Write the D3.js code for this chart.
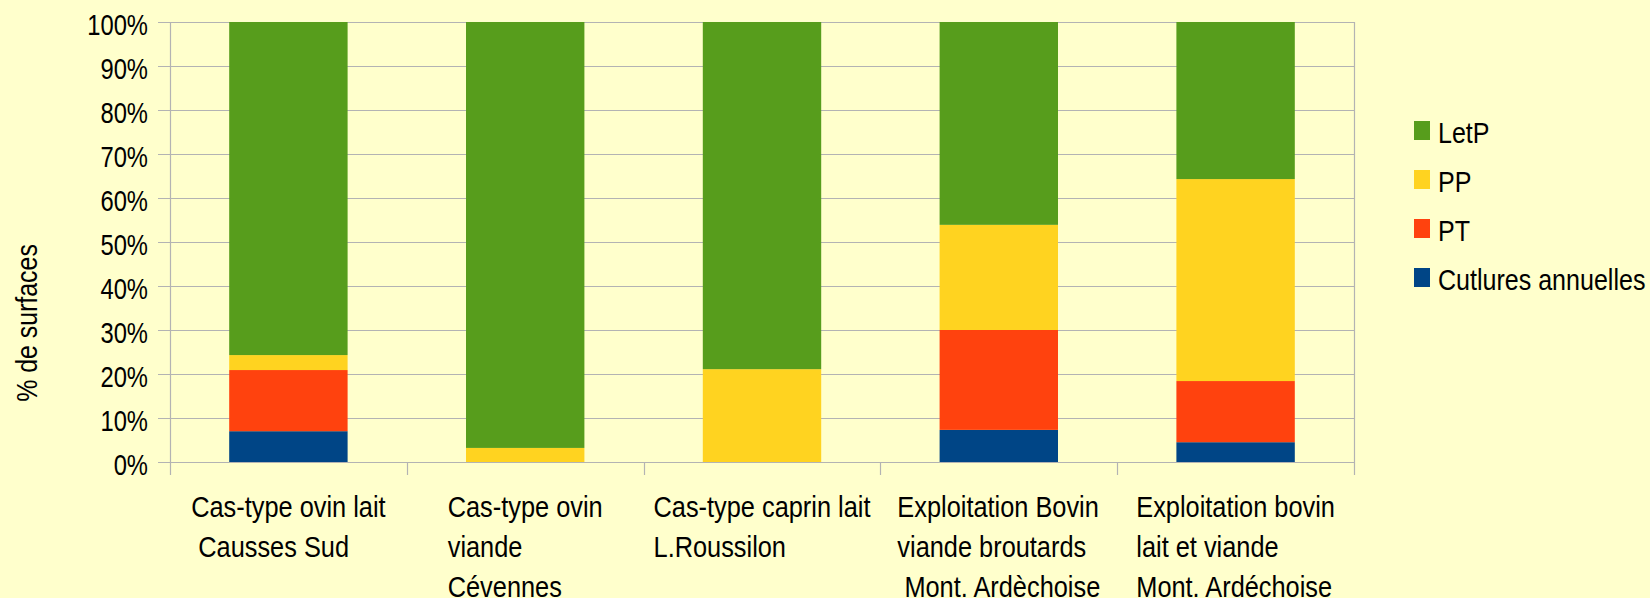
<!DOCTYPE html>
<html><head><meta charset="utf-8">
<script src="https://cdn.jsdelivr.net/npm/d3@7"></script>
<style>
html,body{margin:0;padding:0;background:#ffffcc;}
svg{display:block;}
text{white-space:pre;}
</style></head>
<body>
<svg id="chart" width="1650" height="598"></svg>
<script>
// ---- data ----
const categories = ["c1","c2","c3","c4","c5"];
const categoryLines = [
  ["Cas-type ovin lait", " Causses Sud"],
  ["Cas-type ovin", "viande", "Cévennes"],
  ["Cas-type caprin lait", "L.Roussilon"],
  ["Exploitation Bovin", "viande broutards", " Mont. Ardèchoise"],
  ["Exploitation bovin", "lait et viande", "Mont. Ardéchoise"]
];
const seriesNames = ["Cutlures annuelles", "PT", "PP", "LetP"];
const culturesAnnuelles = [7.0, 0, 0, 7.3, 4.5];
const pt = [13.9, 0, 0, 22.7, 13.9];
const pp = [3.4, 3.2, 21.1, 23.9, 45.9];
const letp = [75.7, 96.8, 78.9, 46.1, 35.7];
const yTicks = [0,10,20,30,40,50,60,70,80,90,100];
const yTickLabels = ["0%","10%","20%","30%","40%","50%","60%","70%","80%","90%","100%"];
const yTitle = "% de surfaces";
const colors = ["#004586", "#ff420e", "#ffd320", "#579d1c"];

(function(){
const svg = d3.select("#chart");
svg.append("rect").attr("width",1650).attr("height",598).attr("fill","#ffffcc");

const FONT = "'Liberation Sans', Arial, sans-serif";

function addText(g, x, y, str, size, anchor, extra, sx) {
  return g.append("text")
    .attr("transform", `translate(${x},${y})${extra||""} scale(${sx||0.84},1)`)
    .attr("text-anchor", anchor || "start")
    .style("font-family", FONT)
    .style("font-size", size + "px")
    .attr("fill", "#000")
    .text(str);
}

const pLeft = 170, pRight = 1354, pTop = 22, pBottom = 462;
const x = d3.scaleBand().domain(categories).range([pLeft, pRight]).paddingInner(0.5).paddingOuter(0.25);
const y = d3.scaleLinear().domain([0,100]).range([pBottom, pTop]);

// gridlines
const grid = svg.append("g");
yTicks.forEach(v => {
  grid.append("line").attr("x1", 158).attr("x2", pRight)
    .attr("y1", Math.round(y(v))+0.5).attr("y2", Math.round(y(v))+0.5)
    .attr("stroke", "#b3b3b3").attr("stroke-width", 1.2);
});
grid.append("line").attr("x1", pLeft+0.5).attr("x2", pLeft+0.5).attr("y1", pTop).attr("y2", 475).attr("stroke","#b3b3b3").attr("stroke-width",1.2);
grid.append("line").attr("x1", pRight+0.5).attr("x2", pRight+0.5).attr("y1", pTop).attr("y2", 475).attr("stroke","#b3b3b3").attr("stroke-width",1.2);
const step = x.step();
for (let i = 1; i < categories.length; i++) {
  const bx = Math.round(pLeft + i*step) + 0.5;
  grid.append("line").attr("x1", bx).attr("x2", bx).attr("y1", pBottom).attr("y2", 475).attr("stroke","#b3b3b3").attr("stroke-width",1.2);
}

// stacked bars
const rows = categories.map((c,i) => ({cat:c, "Cutlures annuelles":culturesAnnuelles[i], "PT":pt[i], "PP":pp[i], "LetP":letp[i]}));
const stacked = d3.stack().keys(seriesNames)(rows);
svg.append("g").selectAll("g").data(stacked).join("g")
  .attr("fill", (d,i) => colors[i])
  .selectAll("rect").data(d => d).join("rect")
  .attr("x", d => x(d.data.cat))
  .attr("width", x.bandwidth())
  .attr("y", d => y(d[1]))
  .attr("height", d => Math.max(0, y(d[0]) - y(d[1])));

// y tick labels
const yl = svg.append("g");
yTicks.forEach((v,i) => addText(yl, 148, y(v) + 12.5, yTickLabels[i], 29, "end", "", 0.82));

// category labels (lines left-aligned, block centered)
const cl = svg.append("g");
const csx = 0.845;
categories.forEach((c,i) => {
  const lines = categoryLines[i];
  const cx = x(c) + x.bandwidth()/2;
  const tmp = lines.map(s => addText(cl, 0, 0, s, 30, "start", "", csx));
  const wmax = d3.max(tmp, t => t.node().getComputedTextLength()) * csx;
  tmp.forEach(t => t.remove());
  lines.forEach((s,j) => addText(cl, cx - wmax/2, 517 + j*40, s, 30, "start", "", csx));
});

// y title
addText(svg.append("g"), 37, 323, yTitle, 30, "middle", " rotate(-90)", 0.83);

// legend
const lg = svg.append("g");
const legendOrder = [3,2,1,0];
legendOrder.forEach((si, k) => {
  const yy = 121 + k*49;
  lg.append("rect").attr("x", 1414).attr("y", yy).attr("width", 16).attr("height", 19).attr("fill", colors[si]);
  addText(lg, 1438, yy + 22, seriesNames[si], 30, "start", "", 0.835);
});
})();
</script>
</body></html>
